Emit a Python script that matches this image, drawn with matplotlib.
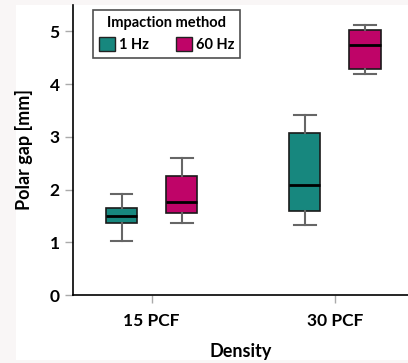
import matplotlib
matplotlib.use('Agg')
import matplotlib.pyplot as plt
from matplotlib.patches import Patch, Rectangle

# data
densities = ['15 PCF', '30 PCF']
methods = ['1 Hz', '60 Hz']
colors = ['#17877e', '#bf0468']
whislo = [[1.02, 1.33], [1.36, 4.20]]
q1 = [[1.36, 1.60], [1.55, 4.28]]
med = [[1.50, 2.09], [1.76, 4.75]]
q3 = [[1.65, 3.07], [2.26, 5.03]]
whishi = [[1.92, 3.42], [2.59, 5.13]]

plt.rcParams['font.family'] = ['Lato', 'DejaVu Sans']
plt.rcParams['font.weight'] = 'bold'
plt.rcParams['axes.labelweight'] = 'bold'

fig = plt.figure(figsize=(4.08, 3.63), dpi=100, facecolor='#f9f6f6')
fig.patches.append(Rectangle((16/408, 3/363), 1, 355/363, transform=fig.transFigure,
                             facecolor='white', edgecolor='none', zorder=-10))
ax = fig.add_axes([73/408, 68/363, 335/408, 290/363])
ax.set_facecolor('white')

offsets = [-0.165, 0.165]
for m in range(2):
    stats = []
    for d in range(2):
        stats.append(dict(whislo=whislo[m][d], q1=q1[m][d], med=med[m][d],
                          q3=q3[m][d], whishi=whishi[m][d], fliers=[]))
    pos = [d + offsets[m] for d in range(2)]
    ax.bxp(stats, positions=pos, widths=0.17, patch_artist=True, showfliers=False,
           boxprops=dict(facecolor=colors[m], edgecolor='#1a1a1a', linewidth=1.2),
           medianprops=dict(color='black', linewidth=2),
           whiskerprops=dict(color='#666666', linewidth=1.5),
           capprops=dict(color='#666666', linewidth=1.5), capwidths=0.12)

ax.set_xlim(-0.43, 1.40)
ax.set_ylim(0, 5.5)
ax.set_xticks([0, 1])
ax.set_xticklabels(densities)
ax.set_yticks([0, 1, 2, 3, 4, 5])
ax.tick_params(axis='both', color='#aaaaaa', length=6, width=1, labelsize=12.5)
ax.tick_params(axis='x', pad=7)
for s in ['top', 'right']:
    ax.spines[s].set_visible(False)
for s in ['left', 'bottom']:
    ax.spines[s].set_linewidth(1.2)

ax.set_xlabel('Density', fontsize=13, labelpad=10)
ax.set_ylabel('Polar gap [mm]', fontsize=13, labelpad=12)

handles = [Patch(facecolor=colors[i], edgecolor='#222222', label=methods[i]) for i in range(2)]
leg = ax.legend(handles=handles, title='Impaction method', ncol=2, loc='upper left',
                bbox_to_anchor=(0.06, 0.983), borderaxespad=0, frameon=True, fancybox=False,
                edgecolor='#222222', fontsize=10.5, title_fontsize=10.5,
                handlelength=1.1, handleheight=1.1, handletextpad=0.3, columnspacing=1.8)
leg.get_frame().set_linewidth(1.2)
leg.get_title().set_fontweight('bold')

plt.savefig('out.png', dpi=100, facecolor=fig.get_facecolor())
